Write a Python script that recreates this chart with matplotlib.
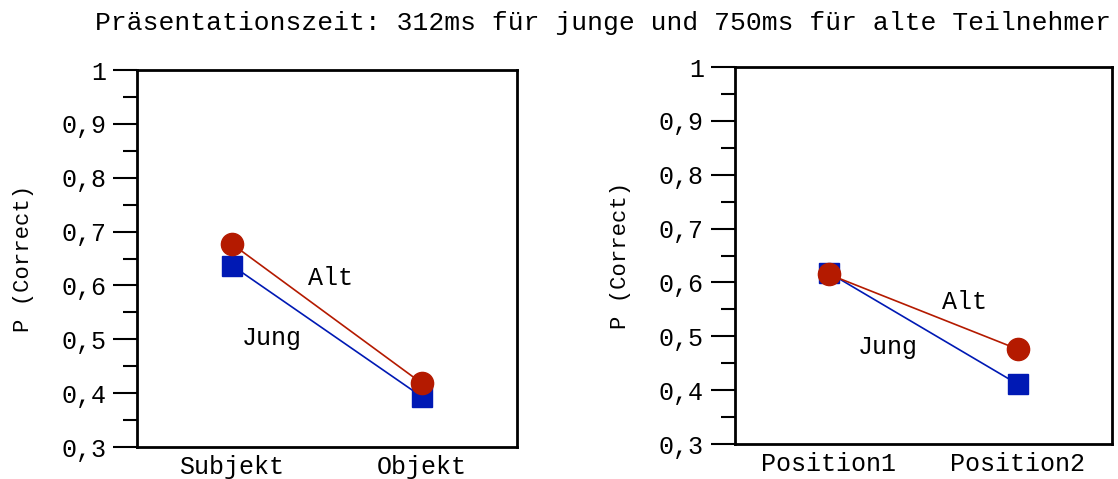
import matplotlib
matplotlib.use("Agg")
import matplotlib.pyplot as plt
from matplotlib.ticker import MultipleLocator

# Data
title = "Präsentationszeit: 312ms für junge und 750ms für alte Teilnehmer"
cats_left = ["Subjekt", "Objekt"]
alt_left = [0.677, 0.418]
jung_left = [0.637, 0.393]
cats_right = ["Position1", "Position2"]
alt_right = [0.615, 0.476]
jung_right = [0.618, 0.411]
ytick_vals = [0.3, 0.4, 0.5, 0.6, 0.7, 0.8, 0.9, 1.0]
ytick_labels = ["0,3", "0,4", "0,5", "0,6", "0,7", "0,8", "0,9", "1"]
ylabel = "P (Correct)"

RED = "#b41a00"
BLUE = "#0019b4"
FONT = "Liberation Mono"
FS = 18

fig = plt.figure(figsize=(11.18, 4.79), dpi=100)
fig.text(0.539, 0.953, title, ha="center", va="center", family=FONT, fontsize=19)

def panel(rect, cats, alt, jung, alt_xy, jung_xy):
    ax = fig.add_axes(rect)
    x = list(range(len(cats)))
    ax.plot(x, alt, color=RED, lw=1.2, marker="o", ms=16, mec=RED, mfc=RED, zorder=3)
    ax.plot(x, jung, color=BLUE, lw=1.2, marker="s", ms=15, mec=BLUE, mfc=BLUE, zorder=2)
    ax.set_xlim(-0.5, 1.5)
    ax.set_ylim(0.3, 1.0)
    ax.set_xticks(x)
    ax.set_xticklabels(cats, family=FONT, fontsize=FS)
    ax.set_yticks(ytick_vals)
    ax.set_yticklabels(ytick_labels, family=FONT, fontsize=FS)
    ax.yaxis.set_minor_locator(MultipleLocator(0.05))
    ax.tick_params(axis="x", length=0, pad=6)
    ax.tick_params(axis="y", which="major", length=17, width=1.5, direction="out", pad=5)
    ax.tick_params(axis="y", which="minor", length=10, width=1.5, direction="out")
    for s in ax.spines.values():
        s.set_linewidth(2)
    ax.set_ylabel(ylabel, family=FONT, fontsize=16, labelpad=20)
    ax.text(alt_xy[0], alt_xy[1], "Alt", family=FONT, fontsize=FS, ha="center", va="center")
    ax.text(jung_xy[0], jung_xy[1], "Jung", family=FONT, fontsize=FS, ha="center", va="center")
    return ax

panel([0.1225, 0.0668, 0.340, 0.787], cats_left, alt_left, jung_left, (0.516, 0.614), (0.21, 0.502))
panel([0.657, 0.073, 0.338, 0.787], cats_right, alt_right, jung_right, (0.717, 0.563), (0.31, 0.48))

fig.savefig("out.png", dpi=100)
